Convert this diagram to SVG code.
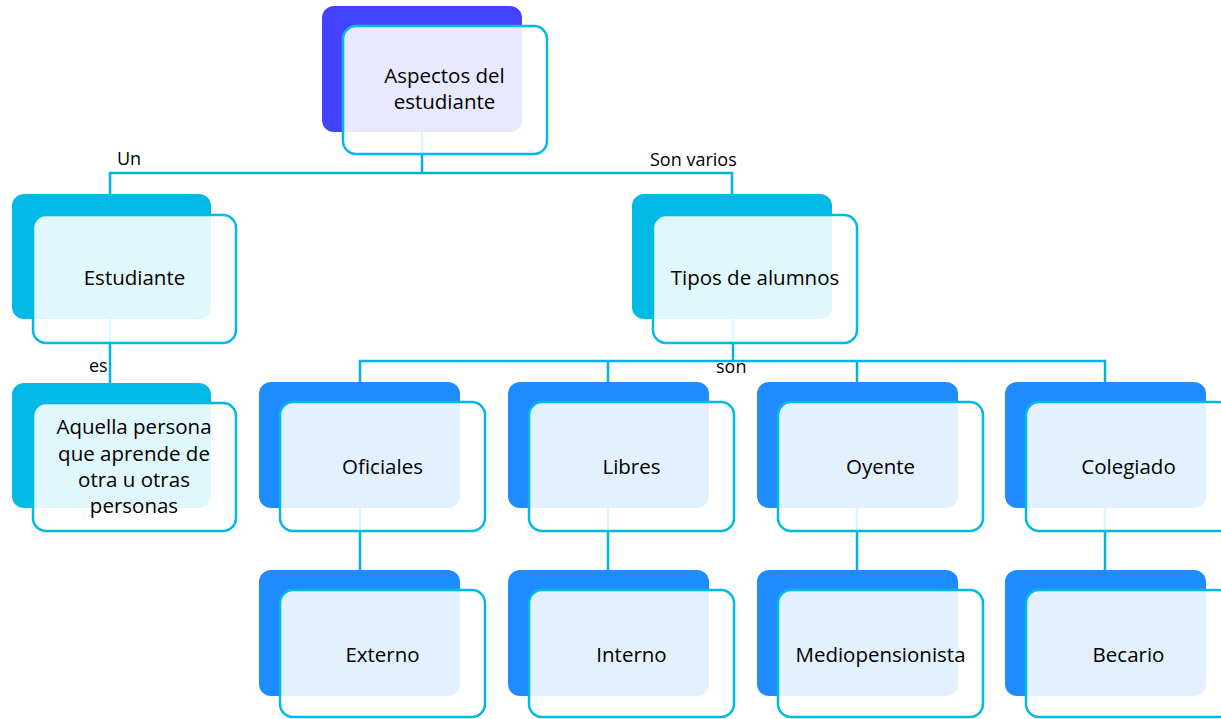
<svg xmlns="http://www.w3.org/2000/svg" width="1221" height="719" viewBox="0 0 1221 719">
<style>
.bg{fill:#ffffff}
.c{fill:none;stroke:#00B4E0;stroke-width:2.5}
.b0{fill:#4343FF}
.b1{fill:#00B9E4}
.b2{fill:#1E8CFF}
.f{fill:#ffffff;fill-opacity:0.88;stroke:#00B9E4;stroke-width:2.5}
.t{font-family:"Open Sans","Noto Sans",sans-serif;font-size:20.5px;fill:#000000;text-anchor:middle}
.l{font-family:"Open Sans","Noto Sans",sans-serif;font-size:18px;fill:#000000}
</style>
<rect class="bg" x="0" y="0" width="1221" height="719"/>
<g id="connectors">
<path class="c" d="M422 132 V173 M110 194 V173 H732 V194"/>
<path class="c" d="M110 319 V383"/>
<path class="c" d="M733 319 V361 M360 383 V361 H1105 V383 M608 361 V383 M857 361 V383"/>
<path class="c" d="M360 508 V570 M608 508 V570 M857 508 V570 M1105 508 V570"/>
<text class="l" x="117" y="165">Un</text>
<text class="l" x="650" y="166">Son varios</text>
<text class="l" x="89" y="372">es</text>
<text class="l" x="716" y="373">son</text>
</g>
<g id="n-aspectos">
<rect class="b0" x="322" y="6" width="200" height="126" rx="12"/>
<rect class="f" x="343" y="26" width="204" height="128" rx="13"/>
<text class="t" x="444.5" y="83">Aspectos del</text>
<text class="t" x="444.5" y="109">estudiante</text>
</g>
<g id="n-estudiante">
<rect class="b1" x="12" y="194" width="199" height="125" rx="12"/>
<rect class="f" x="33" y="215" width="203" height="128" rx="13"/>
<text class="t" x="134.5" y="285">Estudiante</text>
</g>
<g id="n-aquella">
<rect class="b1" x="12" y="383" width="199" height="125" rx="12"/>
<rect class="f" x="33" y="403" width="203" height="128" rx="13"/>
<text class="t" x="134" y="434">Aquella persona</text>
<text class="t" x="134" y="460.5">que aprende de</text>
<text class="t" x="134" y="487">otra u otras</text>
<text class="t" x="134" y="513">personas</text>
</g>
<g id="n-tipos">
<rect class="b1" x="632" y="194" width="200" height="125" rx="12"/>
<rect class="f" x="653" y="215" width="204" height="128" rx="13"/>
<text class="t" x="755" y="285">Tipos de alumnos</text>
</g>
<g id="n-oficiales">
<rect class="b2" x="259" y="382" width="201" height="126" rx="12"/>
<rect class="f" x="280" y="402" width="205" height="129" rx="13"/>
<text class="t" x="382.5" y="474">Oficiales</text>
</g>
<g id="n-libres">
<rect class="b2" x="508" y="382" width="201" height="126" rx="12"/>
<rect class="f" x="529" y="402" width="205" height="129" rx="13"/>
<text class="t" x="631.5" y="474">Libres</text>
</g>
<g id="n-oyente">
<rect class="b2" x="757" y="382" width="201" height="126" rx="12"/>
<rect class="f" x="778" y="402" width="205" height="129" rx="13"/>
<text class="t" x="880.5" y="474">Oyente</text>
</g>
<g id="n-colegiado">
<rect class="b2" x="1005" y="382" width="201" height="126" rx="12"/>
<rect class="f" x="1026" y="402" width="205" height="129" rx="13"/>
<text class="t" x="1128.5" y="474">Colegiado</text>
</g>
<g id="n-externo">
<rect class="b2" x="259" y="570" width="201" height="126" rx="12"/>
<rect class="f" x="280" y="590" width="205" height="127" rx="13"/>
<text class="t" x="382.5" y="662">Externo</text>
</g>
<g id="n-interno">
<rect class="b2" x="508" y="570" width="201" height="126" rx="12"/>
<rect class="f" x="529" y="590" width="205" height="127" rx="13"/>
<text class="t" x="631.5" y="662">Interno</text>
</g>
<g id="n-mediopensionista">
<rect class="b2" x="757" y="570" width="201" height="126" rx="12"/>
<rect class="f" x="778" y="590" width="205" height="127" rx="13"/>
<text class="t" x="880.5" y="662">Mediopensionista</text>
</g>
<g id="n-becario">
<rect class="b2" x="1005" y="570" width="201" height="126" rx="12"/>
<rect class="f" x="1026" y="590" width="205" height="127" rx="13"/>
<text class="t" x="1128.5" y="662">Becario</text>
</g>
</svg>
